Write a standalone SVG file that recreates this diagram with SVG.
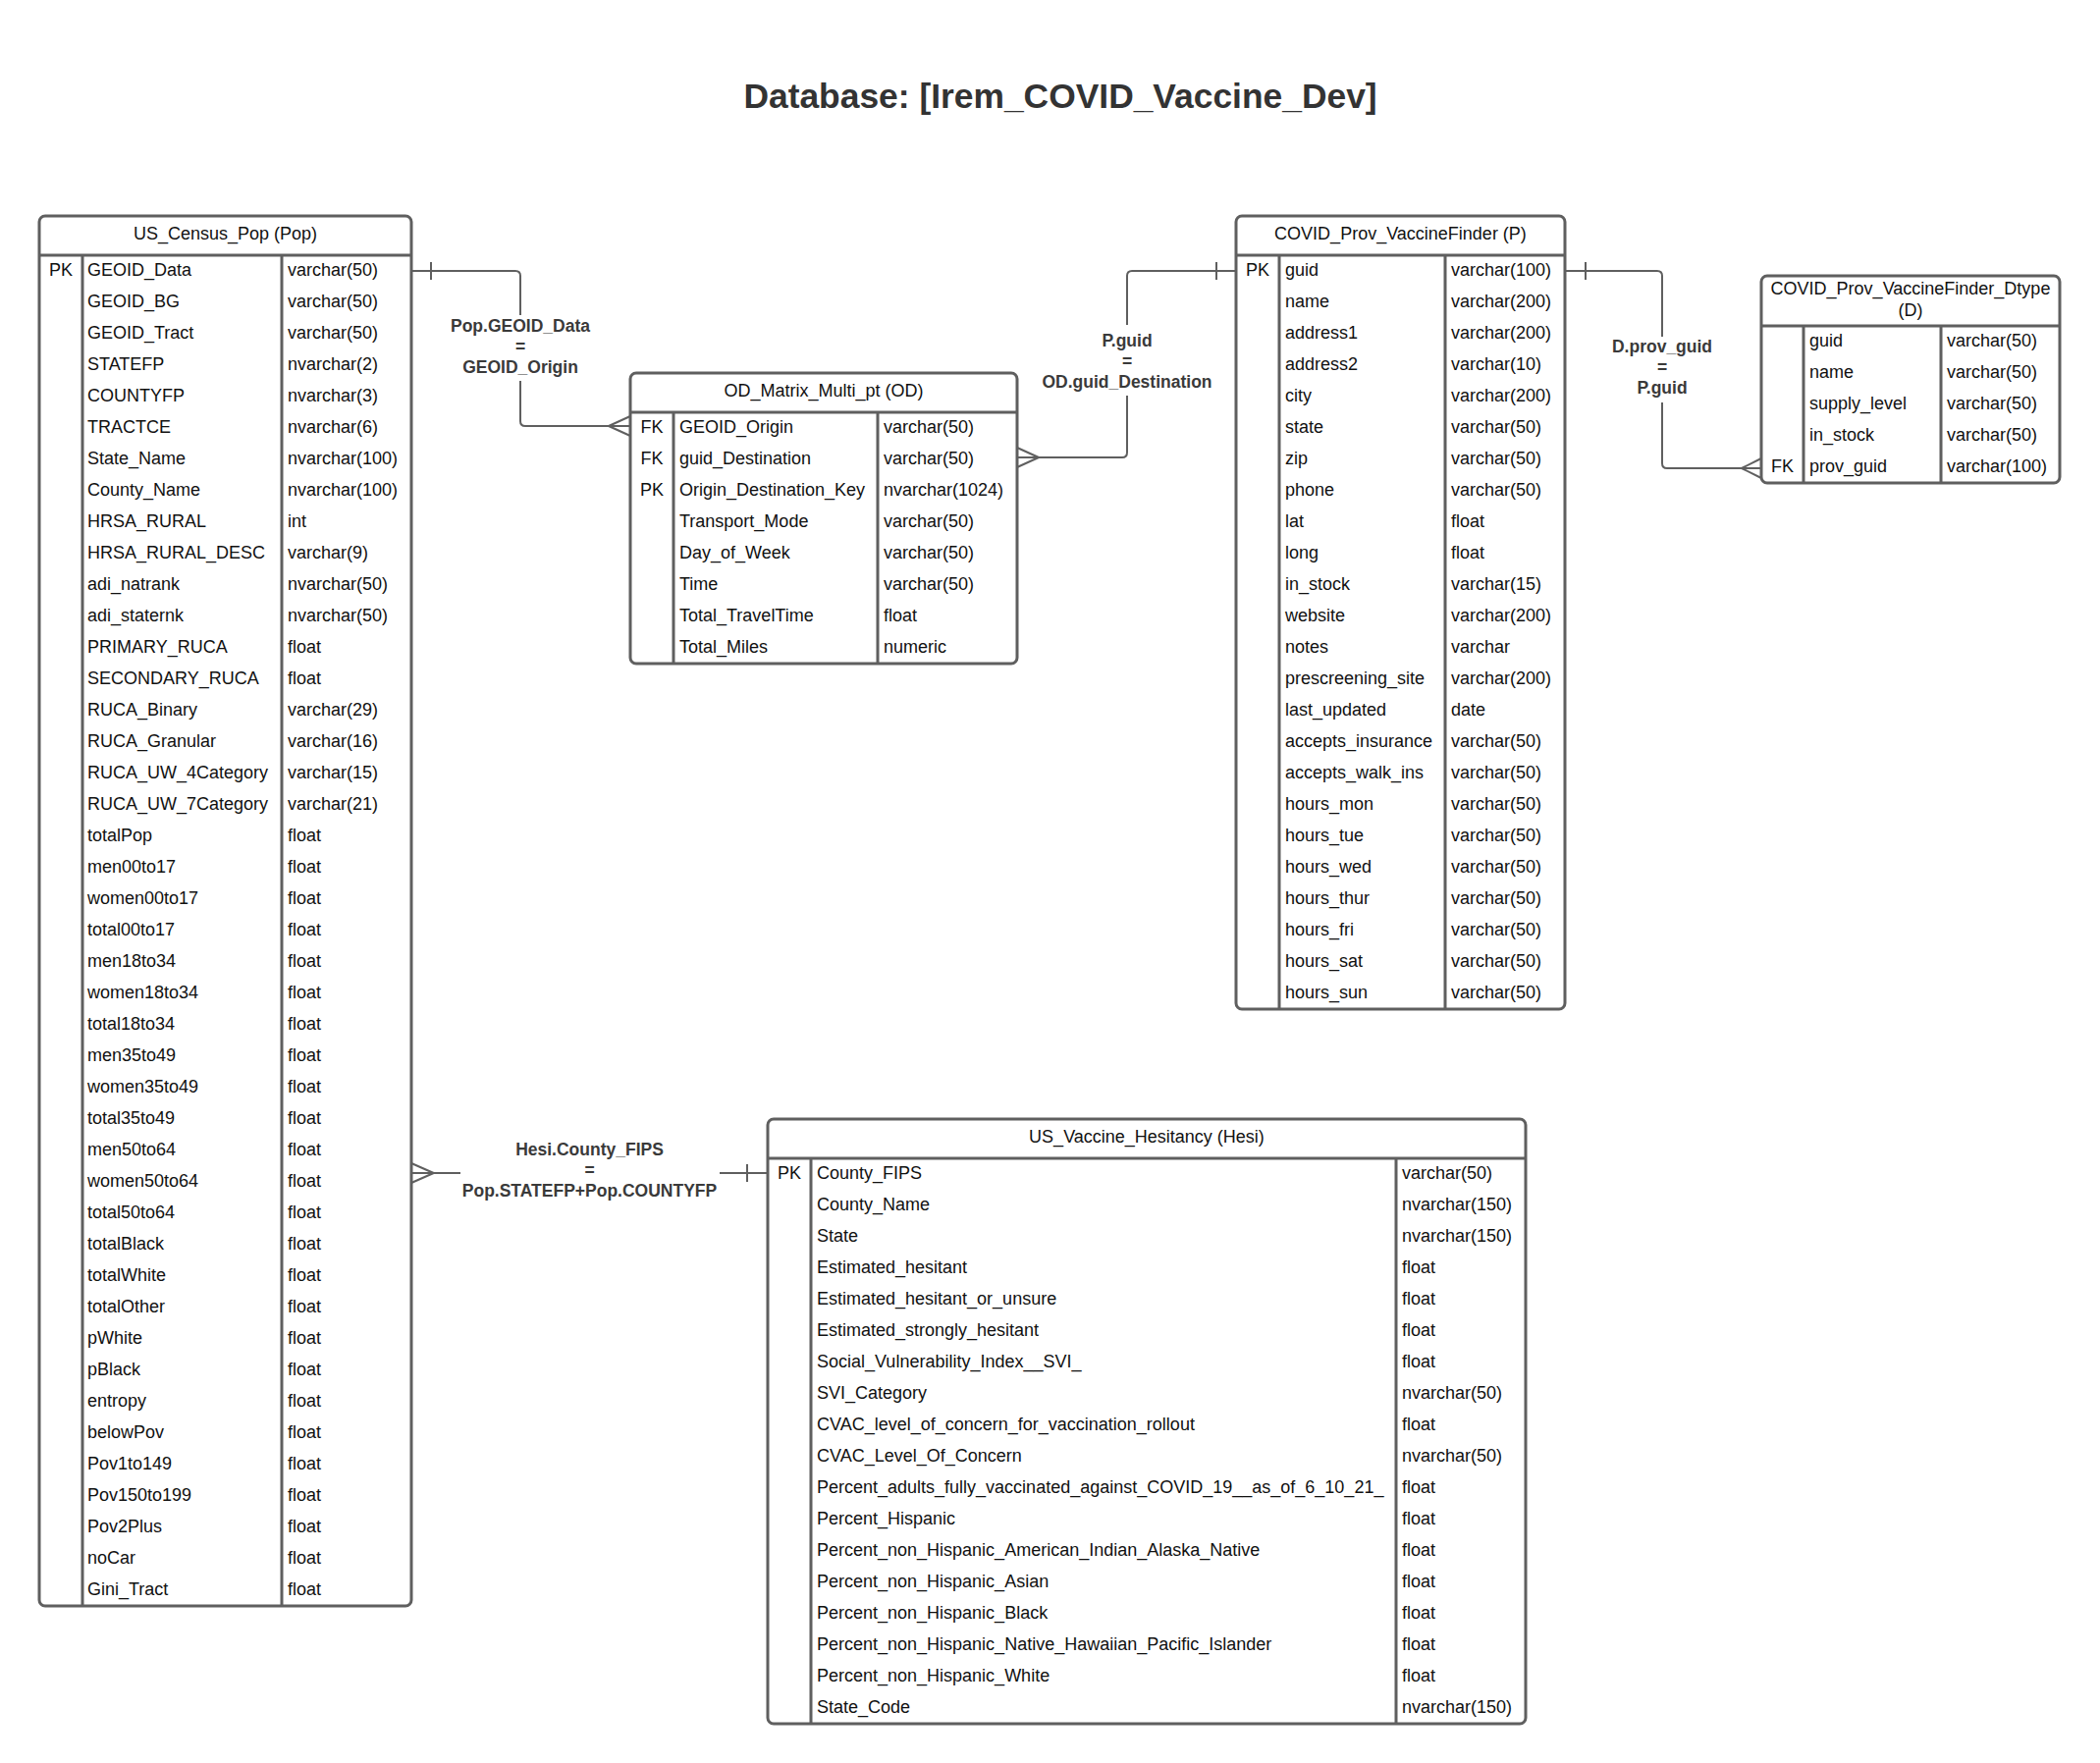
<svg xmlns="http://www.w3.org/2000/svg" width="2139" height="1796" viewBox="0 0 2139 1796">
<style>
.frame{fill:#fff;stroke:#5f5f5f;stroke-width:3}
.div{stroke:#5f5f5f;stroke-width:3;fill:none}
.t{font-family:"Liberation Sans",Arial,sans-serif;font-size:18px;fill:#111}
.h{font-family:"Liberation Sans",Arial,sans-serif;font-size:18px;fill:#111;text-anchor:middle}
.k{font-family:"Liberation Sans",Arial,sans-serif;font-size:18px;fill:#111;text-anchor:middle}
.lbl{font-family:"Liberation Sans",Arial,sans-serif;font-size:17.5px;font-weight:bold;fill:#3a3a3a;text-anchor:middle}
.title{font-family:"Liberation Sans",Arial,sans-serif;font-size:35.4px;font-weight:bold;fill:#333;text-anchor:middle}
.con{stroke:#5f5f5f;stroke-width:2;fill:none}
</style>
<rect width="2139" height="1796" fill="#fff"/>
<text class="title" x="1080" y="109.5">Database: [Irem_COVID_Vaccine_Dev]</text>

<g id="connectors">
  <path class="con" d="M419,276 H525 Q530,276 530,281 V321 M530,388 V429 Q530,434 535,434 H642 M439,267 V285 M620,434 L642,424 M620,434 L642,444"/>
  <text class="lbl" x="530" y="338">Pop.GEOID_Data</text>
  <text class="lbl" x="530" y="359">=</text>
  <text class="lbl" x="530" y="380">GEOID_Origin</text>

  <path class="con" d="M1259,276 H1153 Q1148,276 1148,281 V331 M1148,403 V461 Q1148,466 1143,466 H1036 M1239,267 V285 M1058,466 L1036,456 M1058,466 L1036,476"/>
  <text class="lbl" x="1148" y="353">P.guid</text>
  <text class="lbl" x="1148" y="374">=</text>
  <text class="lbl" x="1148" y="395">OD.guid_Destination</text>

  <path class="con" d="M1594,276 H1688 Q1693,276 1693,281 V343 M1693,410 V472 Q1693,477 1698,477 H1794 M1615,267 V285 M1774,477 L1794,467 M1774,477 L1794,487"/>
  <text class="lbl" x="1693" y="359">D.prov_guid</text>
  <text class="lbl" x="1693" y="380">=</text>
  <text class="lbl" x="1693" y="401">P.guid</text>

  <path class="con" d="M419,1195 H469 M733,1195 H782 M761,1186 V1204 M441.7,1195 L419,1185 M441.7,1195 L419,1205"/>
  <text class="lbl" x="600.5" y="1177">Hesi.County_FIPS</text>
  <text class="lbl" x="600.5" y="1198">=</text>
  <text class="lbl" x="600.5" y="1219">Pop.STATEFP+Pop.COUNTYFP</text>
</g>

<g id="pop">
  <rect class="frame" x="40" y="220" width="379" height="1416" rx="6"/>
  <path class="div" d="M40,260 H419 M84,260 V1636 M287,260 V1636"/>
  <text class="h" x="229.5" y="244">US_Census_Pop (Pop)</text>
  <text class="k" x="62" y="280.5">PK</text>
  <text class="t"><tspan x="89" y="280.5">GEOID_Data</tspan><tspan x="89" y="312.5">GEOID_BG</tspan><tspan x="89" y="344.5">GEOID_Tract</tspan><tspan x="89" y="376.5">STATEFP</tspan><tspan x="89" y="408.5">COUNTYFP</tspan><tspan x="89" y="440.5">TRACTCE</tspan><tspan x="89" y="472.5">State_Name</tspan><tspan x="89" y="504.5">County_Name</tspan><tspan x="89" y="536.5">HRSA_RURAL</tspan><tspan x="89" y="568.5">HRSA_RURAL_DESC</tspan><tspan x="89" y="600.5">adi_natrank</tspan><tspan x="89" y="632.5">adi_staternk</tspan><tspan x="89" y="664.5">PRIMARY_RUCA</tspan><tspan x="89" y="696.5">SECONDARY_RUCA</tspan><tspan x="89" y="728.5">RUCA_Binary</tspan><tspan x="89" y="760.5">RUCA_Granular</tspan><tspan x="89" y="792.5">RUCA_UW_4Category</tspan><tspan x="89" y="824.5">RUCA_UW_7Category</tspan><tspan x="89" y="856.5">totalPop</tspan><tspan x="89" y="888.5">men00to17</tspan><tspan x="89" y="920.5">women00to17</tspan><tspan x="89" y="952.5">total00to17</tspan><tspan x="89" y="984.5">men18to34</tspan><tspan x="89" y="1016.5">women18to34</tspan><tspan x="89" y="1048.5">total18to34</tspan><tspan x="89" y="1080.5">men35to49</tspan><tspan x="89" y="1112.5">women35to49</tspan><tspan x="89" y="1144.5">total35to49</tspan><tspan x="89" y="1176.5">men50to64</tspan><tspan x="89" y="1208.5">women50to64</tspan><tspan x="89" y="1240.5">total50to64</tspan><tspan x="89" y="1272.5">totalBlack</tspan><tspan x="89" y="1304.5">totalWhite</tspan><tspan x="89" y="1336.5">totalOther</tspan><tspan x="89" y="1368.5">pWhite</tspan><tspan x="89" y="1400.5">pBlack</tspan><tspan x="89" y="1432.5">entropy</tspan><tspan x="89" y="1464.5">belowPov</tspan><tspan x="89" y="1496.5">Pov1to149</tspan><tspan x="89" y="1528.5">Pov150to199</tspan><tspan x="89" y="1560.5">Pov2Plus</tspan><tspan x="89" y="1592.5">noCar</tspan><tspan x="89" y="1624.5">Gini_Tract</tspan></text>
  <text class="t"><tspan x="293" y="280.5">varchar(50)</tspan><tspan x="293" y="312.5">varchar(50)</tspan><tspan x="293" y="344.5">varchar(50)</tspan><tspan x="293" y="376.5">nvarchar(2)</tspan><tspan x="293" y="408.5">nvarchar(3)</tspan><tspan x="293" y="440.5">nvarchar(6)</tspan><tspan x="293" y="472.5">nvarchar(100)</tspan><tspan x="293" y="504.5">nvarchar(100)</tspan><tspan x="293" y="536.5">int</tspan><tspan x="293" y="568.5">varchar(9)</tspan><tspan x="293" y="600.5">nvarchar(50)</tspan><tspan x="293" y="632.5">nvarchar(50)</tspan><tspan x="293" y="664.5">float</tspan><tspan x="293" y="696.5">float</tspan><tspan x="293" y="728.5">varchar(29)</tspan><tspan x="293" y="760.5">varchar(16)</tspan><tspan x="293" y="792.5">varchar(15)</tspan><tspan x="293" y="824.5">varchar(21)</tspan><tspan x="293" y="856.5">float</tspan><tspan x="293" y="888.5">float</tspan><tspan x="293" y="920.5">float</tspan><tspan x="293" y="952.5">float</tspan><tspan x="293" y="984.5">float</tspan><tspan x="293" y="1016.5">float</tspan><tspan x="293" y="1048.5">float</tspan><tspan x="293" y="1080.5">float</tspan><tspan x="293" y="1112.5">float</tspan><tspan x="293" y="1144.5">float</tspan><tspan x="293" y="1176.5">float</tspan><tspan x="293" y="1208.5">float</tspan><tspan x="293" y="1240.5">float</tspan><tspan x="293" y="1272.5">float</tspan><tspan x="293" y="1304.5">float</tspan><tspan x="293" y="1336.5">float</tspan><tspan x="293" y="1368.5">float</tspan><tspan x="293" y="1400.5">float</tspan><tspan x="293" y="1432.5">float</tspan><tspan x="293" y="1464.5">float</tspan><tspan x="293" y="1496.5">float</tspan><tspan x="293" y="1528.5">float</tspan><tspan x="293" y="1560.5">float</tspan><tspan x="293" y="1592.5">float</tspan><tspan x="293" y="1624.5">float</tspan></text>
</g>

<g id="od">
  <rect class="frame" x="642" y="380" width="394" height="296" rx="6"/>
  <path class="div" d="M642,420 H1036 M686,420 V676 M894,420 V676"/>
  <text class="h" x="839" y="404">OD_Matrix_Multi_pt (OD)</text>
  <text class="k"><tspan x="664" y="440.5">FK</tspan><tspan x="664" y="472.5">FK</tspan><tspan x="664" y="504.5">PK</tspan></text>
  <text class="t"><tspan x="692" y="440.5">GEOID_Origin</tspan><tspan x="692" y="472.5">guid_Destination</tspan><tspan x="692" y="504.5">Origin_Destination_Key</tspan><tspan x="692" y="536.5">Transport_Mode</tspan><tspan x="692" y="568.5">Day_of_Week</tspan><tspan x="692" y="600.5">Time</tspan><tspan x="692" y="632.5">Total_TravelTime</tspan><tspan x="692" y="664.5">Total_Miles</tspan></text>
  <text class="t"><tspan x="900" y="440.5">varchar(50)</tspan><tspan x="900" y="472.5">varchar(50)</tspan><tspan x="900" y="504.5">nvarchar(1024)</tspan><tspan x="900" y="536.5">varchar(50)</tspan><tspan x="900" y="568.5">varchar(50)</tspan><tspan x="900" y="600.5">varchar(50)</tspan><tspan x="900" y="632.5">float</tspan><tspan x="900" y="664.5">numeric</tspan></text>
</g>

<g id="p">
  <rect class="frame" x="1259" y="220" width="335" height="808" rx="6"/>
  <path class="div" d="M1259,260 H1594 M1303,260 V1028 M1472,260 V1028"/>
  <text class="h" x="1426.5" y="244">COVID_Prov_VaccineFinder (P)</text>
  <text class="k" x="1281" y="280.5">PK</text>
  <text class="t"><tspan x="1309" y="280.5">guid</tspan><tspan x="1309" y="312.5">name</tspan><tspan x="1309" y="344.5">address1</tspan><tspan x="1309" y="376.5">address2</tspan><tspan x="1309" y="408.5">city</tspan><tspan x="1309" y="440.5">state</tspan><tspan x="1309" y="472.5">zip</tspan><tspan x="1309" y="504.5">phone</tspan><tspan x="1309" y="536.5">lat</tspan><tspan x="1309" y="568.5">long</tspan><tspan x="1309" y="600.5">in_stock</tspan><tspan x="1309" y="632.5">website</tspan><tspan x="1309" y="664.5">notes</tspan><tspan x="1309" y="696.5">prescreening_site</tspan><tspan x="1309" y="728.5">last_updated</tspan><tspan x="1309" y="760.5">accepts_insurance</tspan><tspan x="1309" y="792.5">accepts_walk_ins</tspan><tspan x="1309" y="824.5">hours_mon</tspan><tspan x="1309" y="856.5">hours_tue</tspan><tspan x="1309" y="888.5">hours_wed</tspan><tspan x="1309" y="920.5">hours_thur</tspan><tspan x="1309" y="952.5">hours_fri</tspan><tspan x="1309" y="984.5">hours_sat</tspan><tspan x="1309" y="1016.5">hours_sun</tspan></text>
  <text class="t"><tspan x="1478" y="280.5">varchar(100)</tspan><tspan x="1478" y="312.5">varchar(200)</tspan><tspan x="1478" y="344.5">varchar(200)</tspan><tspan x="1478" y="376.5">varchar(10)</tspan><tspan x="1478" y="408.5">varchar(200)</tspan><tspan x="1478" y="440.5">varchar(50)</tspan><tspan x="1478" y="472.5">varchar(50)</tspan><tspan x="1478" y="504.5">varchar(50)</tspan><tspan x="1478" y="536.5">float</tspan><tspan x="1478" y="568.5">float</tspan><tspan x="1478" y="600.5">varchar(15)</tspan><tspan x="1478" y="632.5">varchar(200)</tspan><tspan x="1478" y="664.5">varchar</tspan><tspan x="1478" y="696.5">varchar(200)</tspan><tspan x="1478" y="728.5">date</tspan><tspan x="1478" y="760.5">varchar(50)</tspan><tspan x="1478" y="792.5">varchar(50)</tspan><tspan x="1478" y="824.5">varchar(50)</tspan><tspan x="1478" y="856.5">varchar(50)</tspan><tspan x="1478" y="888.5">varchar(50)</tspan><tspan x="1478" y="920.5">varchar(50)</tspan><tspan x="1478" y="952.5">varchar(50)</tspan><tspan x="1478" y="984.5">varchar(50)</tspan><tspan x="1478" y="1016.5">varchar(50)</tspan></text>
</g>

<g id="d">
  <rect class="frame" x="1794" y="281" width="304" height="211" rx="6"/>
  <path class="div" d="M1794,332 H2098 M1837,332 V492 M1977,332 V492"/>
  <text class="h"><tspan x="1946" y="300">COVID_Prov_VaccineFinder_Dtype</tspan><tspan x="1946" y="321.5">(D)</tspan></text>
  <text class="k" x="1815.5" y="480.5">FK</text>
  <text class="t"><tspan x="1843" y="352.5">guid</tspan><tspan x="1843" y="384.5">name</tspan><tspan x="1843" y="416.5">supply_level</tspan><tspan x="1843" y="448.5">in_stock</tspan><tspan x="1843" y="480.5">prov_guid</tspan></text>
  <text class="t"><tspan x="1983" y="352.5">varchar(50)</tspan><tspan x="1983" y="384.5">varchar(50)</tspan><tspan x="1983" y="416.5">varchar(50)</tspan><tspan x="1983" y="448.5">varchar(50)</tspan><tspan x="1983" y="480.5">varchar(100)</tspan></text>
</g>

<g id="hesi">
  <rect class="frame" x="782" y="1140" width="772" height="616" rx="6"/>
  <path class="div" d="M782,1180 H1554 M826,1180 V1756 M1422,1180 V1756"/>
  <text class="h" x="1168" y="1163.5">US_Vaccine_Hesitancy (Hesi)</text>
  <text class="k" x="804" y="1200.5">PK</text>
  <text class="t"><tspan x="832" y="1200.5">County_FIPS</tspan><tspan x="832" y="1232.5">County_Name</tspan><tspan x="832" y="1264.5">State</tspan><tspan x="832" y="1296.5">Estimated_hesitant</tspan><tspan x="832" y="1328.5">Estimated_hesitant_or_unsure</tspan><tspan x="832" y="1360.5">Estimated_strongly_hesitant</tspan><tspan x="832" y="1392.5">Social_Vulnerability_Index__SVI_</tspan><tspan x="832" y="1424.5">SVI_Category</tspan><tspan x="832" y="1456.5">CVAC_level_of_concern_for_vaccination_rollout</tspan><tspan x="832" y="1488.5">CVAC_Level_Of_Concern</tspan><tspan x="832" y="1520.5">Percent_adults_fully_vaccinated_against_COVID_19__as_of_6_10_21_</tspan><tspan x="832" y="1552.5">Percent_Hispanic</tspan><tspan x="832" y="1584.5">Percent_non_Hispanic_American_Indian_Alaska_Native</tspan><tspan x="832" y="1616.5">Percent_non_Hispanic_Asian</tspan><tspan x="832" y="1648.5">Percent_non_Hispanic_Black</tspan><tspan x="832" y="1680.5">Percent_non_Hispanic_Native_Hawaiian_Pacific_Islander</tspan><tspan x="832" y="1712.5">Percent_non_Hispanic_White</tspan><tspan x="832" y="1744.5">State_Code</tspan></text>
  <text class="t"><tspan x="1428" y="1200.5">varchar(50)</tspan><tspan x="1428" y="1232.5">nvarchar(150)</tspan><tspan x="1428" y="1264.5">nvarchar(150)</tspan><tspan x="1428" y="1296.5">float</tspan><tspan x="1428" y="1328.5">float</tspan><tspan x="1428" y="1360.5">float</tspan><tspan x="1428" y="1392.5">float</tspan><tspan x="1428" y="1424.5">nvarchar(50)</tspan><tspan x="1428" y="1456.5">float</tspan><tspan x="1428" y="1488.5">nvarchar(50)</tspan><tspan x="1428" y="1520.5">float</tspan><tspan x="1428" y="1552.5">float</tspan><tspan x="1428" y="1584.5">float</tspan><tspan x="1428" y="1616.5">float</tspan><tspan x="1428" y="1648.5">float</tspan><tspan x="1428" y="1680.5">float</tspan><tspan x="1428" y="1712.5">float</tspan><tspan x="1428" y="1744.5">nvarchar(150)</tspan></text>
</g>
</svg>
